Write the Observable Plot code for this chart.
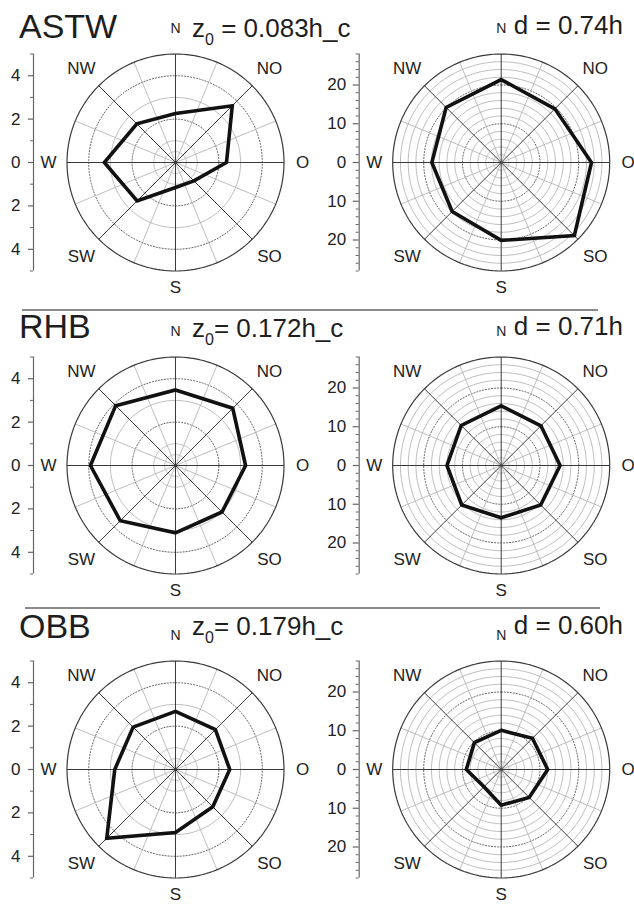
<!DOCTYPE html>
<html><head><meta charset="utf-8">
<script src="https://cdn.jsdelivr.net/npm/d3@7"></script>
<script src="https://cdn.jsdelivr.net/npm/@observablehq/plot@0.6"></script>
<style>
body{margin:0;background:#fff;font-family:"Liberation Sans",Arial,sans-serif;color:#1e1e1e}
#fig{position:relative;width:634px;height:904px;overflow:hidden;background:#fff}
.panel{position:absolute}
.hdr{position:absolute;white-space:nowrap;line-height:1}
.site{font-size:34px;left:19px}
.frm{font-size:26px}
.frm sub{font-size:16px;vertical-align:-8px;line-height:0}
.rule{position:absolute;height:2px;background:#8a8a8a}
</style></head><body><div id="fig"></div>
<script>
// ---------- data ----------
const directions = ["N","NO","O","SO","S","SW","W","NW"];
const sites = ["ASTW","RHB","OBB"];
const z0Coef = ["0.083","0.172","0.179"];
const dCoef  = ["0.74","0.71","0.60"];
// z0 / h_c per direction (left column)
const z0_ASTW = [2.26, 3.70, 2.35, 1.20, 1.15, 2.50, 3.28, 2.52];
const z0_RHB  = [3.48, 3.73, 3.23, 3.03, 3.10, 3.60, 3.92, 3.90];
const z0_OBB  = [2.68, 2.60, 2.50, 2.43, 2.90, 4.48, 2.80, 2.76];
// d per direction (right column)
const d_ASTW = [21.4, 19.6, 23.3, 26.7, 20.1, 17.9, 17.9, 20.1];
const d_RHB  = [15.4, 14.5, 15.2, 14.4, 13.5, 14.4, 14.0, 14.6];
const d_OBB  = [10.1, 11.4, 12.0, 10.2, 9.2, 6.3, 9.0, 9.8];
// radial axis ticks
const z0MajorTicks = [0, 2, 4];
const z0MinorTicks = [1, 3, 5];
const z0Max = 5;
const dMajorTicks = [0, 10, 20];
const dMinorTicks = [2, 4, 6, 8, 12, 14, 16, 18, 22, 24, 26, 28];
const dMax = 28;

const z0Series = [z0_ASTW, z0_RHB, z0_OBB];
const dSeries = [d_ASTW, d_RHB, d_OBB];

// ---------- layout ----------
const fig = document.getElementById("fig");
const rowCenters = [161.7, 464.8, 769];
const colCenters = [175, 500.7];
const colLeft = [0, 317];
const W = 317, H = 300, RPX = 108.5;
const rad = a => a * Math.PI / 180;
const ink = "#222";

function panel(values, cfg) {
  const unit = RPX / cfg.R;
  const cx = cfg.cx;
  const x0 = -cx / unit, x1 = (W - cx) / unit, yh = H / 2 / unit;
  const R = cfg.R;
  const circle = r => d3.range(0, 361, 2).map(a => ({x: r * Math.sin(rad(a)), y: r * Math.cos(rad(a)), r}));
  const spokes = d3.range(16).map(i => ({a: i * 22.5, major: i % 2 === 0}));
  const poly = values.map((v, i) => ({dir: directions[i], x: v * Math.sin(rad(i * 45)), y: v * Math.cos(rad(i * 45))}));
  const ax = -142 / unit;
  const majors = cfg.major.flatMap(t => t === 0 ? [0] : [t, -t]);
  const minors = cfg.minor.flatMap(t => [t, -t]);
  const labOff = {N: 134, NO: 133, O: 127, SO: 133, S: 125, SW: 133, W: 127, NW: 133};
  const labels = directions.map((d, i) => ({d, x: labOff[d] * Math.sin(rad(i * 45)) / unit, y: labOff[d] * Math.cos(rad(i * 45)) / unit}));
  return Plot.plot({
    width: W, height: H, margin: 0,
    x: {domain: [x0, x1], axis: null},
    y: {domain: [-yh, yh], axis: null},
    style: {fontFamily: "Liberation Sans, Arial, sans-serif", background: "transparent", overflow: "visible"},
    marks: [
      Plot.line(cfg.solid.flatMap(circle), {x: "x", y: "y", z: "r", stroke: "#adadad", strokeWidth: 0.8}),
      Plot.line(cfg.dotted.flatMap(circle), {x: "x", y: "y", z: "r", stroke: "#555", strokeWidth: 0.9, strokeDasharray: "1.2,1.8"}),
      Plot.link(spokes.filter(s => !s.major), {x1: 0, y1: 0, x2: s => R * Math.sin(rad(s.a)), y2: s => R * Math.cos(rad(s.a)), stroke: "#adadad", strokeWidth: 0.8}),
      Plot.link(spokes.filter(s => s.major), {x1: 0, y1: 0, x2: s => R * Math.sin(rad(s.a)), y2: s => R * Math.cos(rad(s.a)), stroke: "#3a3a3a", strokeWidth: 1}),
      Plot.line(circle(R), {x: "x", y: "y", stroke: "#3a3a3a", strokeWidth: 1.2}),
      Plot.line(poly, {x: "x", y: "y", curve: "linear-closed", stroke: "#111", strokeWidth: 3.6, strokeLinejoin: "miter", strokeMiterlimit: 6}),
      // radial axis at the left
      Plot.ruleX([ax], {y1: -R, y2: R, stroke: "#666", strokeWidth: 1.2}),
      Plot.ruleY(majors, {y: d => d, x1: ax - cfg.majLen / unit, x2: ax, stroke: "#666", strokeWidth: 1.2}),
      Plot.ruleY(minors, {y: d => d, x1: ax - 3 / unit, x2: ax, stroke: "#666", strokeWidth: 1}),
      Plot.text(majors, {y: d => d, x: ax - 13 / unit, text: d => String(Math.abs(d)), textAnchor: "end", fontSize: 17, fill: ink}),
      // compass labels
      Plot.text(labels.filter(l => l.d !== "N"), {x: "x", y: "y", text: "d", fontSize: 17, fill: ink}),
      Plot.text(labels.filter(l => l.d === "N"), {x: "x", y: "y", text: "d", fontSize: 14, fill: ink})
    ]
  });
}

sites.forEach((s, r) => {
  const cy = rowCenters[r];
  const left = panel(z0Series[r], {R: z0Max, cx: colCenters[0] - colLeft[0], major: z0MajorTicks, minor: z0MinorTicks, majLen: 5, solid: [0.5, 1, 3], dotted: [2, 4]});
  left.classList.add("panel");
  left.style.left = colLeft[0] + "px"; left.style.top = (cy - H / 2) + "px";
  fig.appendChild(left);
  const right = panel(dSeries[r], {R: dMax, cx: colCenters[1] - colLeft[1], major: dMajorTicks, minor: dMinorTicks, majLen: 6,
    solid: d3.range(2, 28, 2).filter(v => v !== 10 && v !== 20), dotted: [10, 20]});
  right.classList.add("panel");
  right.style.left = colLeft[1] + "px"; right.style.top = (cy - H / 2) + "px";
  fig.appendChild(right);

  const base = [37.5, 338, 637.5][r];
  const fbase = [36.5, 336.5, 635][r];
  const dbase = [34, 335, 634][r];
  const h1 = document.createElement("div");
  h1.className = "hdr site"; h1.textContent = s; h1.style.top = (base - 0.846 * 34) + "px";
  fig.appendChild(h1);
  const h2 = document.createElement("div");
  h2.className = "hdr frm"; h2.style.left = "192px"; h2.style.top = (fbase - 0.846 * 26) + "px";
  h2.innerHTML = "z<sub>0</sub>" + (r === 0 ? " = " : "= ") + z0Coef[r] + "h_c";
  fig.appendChild(h2);
  const h3 = document.createElement("div");
  h3.className = "hdr frm"; h3.style.right = "11px"; h3.style.top = (dbase - 0.846 * 26) + "px";
  h3.textContent = "d = " + dCoef[r] + "h";
  fig.appendChild(h3);
});
[[309, 22, 576], [607, 25, 575]].forEach(([t, l, w]) => {
  const d = document.createElement("div");
  d.className = "rule"; d.style.top = t + "px"; d.style.left = l + "px"; d.style.width = w + "px";
  fig.appendChild(d);
});
</script></body></html>
